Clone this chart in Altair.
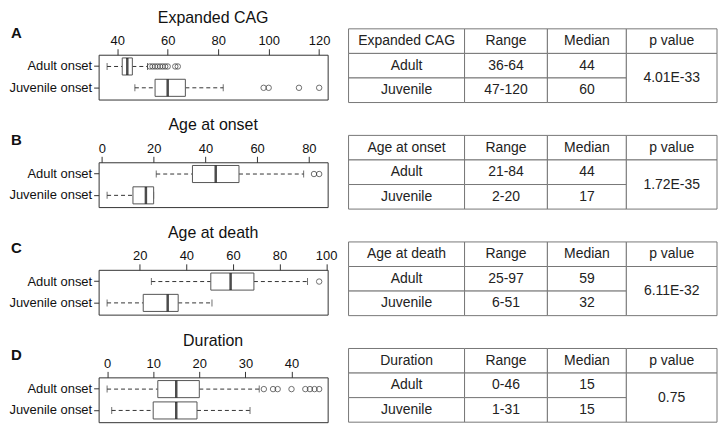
import altair as alt
import pandas as pd

# ---------------- data ----------------
PANELS = ["Expanded CAG", "Age at onset", "Age at death", "Duration"]
LETTERS = ["A", "B", "C", "D"]
GROUPS = ["Adult onset", "Juvenile onset"]

WHISK_LO = [[36, 47], [21, 2], [25, 6], [0, 1]]
Q1 = [[42, 55], [35, 12], [50.5, 21.5], [11, 10]]
MEDIAN = [[44, 60], [44, 17], [59, 32], [15, 15]]
Q3 = [[46, 67], [53, 20], [69, 36.5], [20, 19.5]]
WHISK_HI = [[52, 82], [78, 20], [92, 51], [33, 31]]
OUTLIERS = [
    [[53, 54, 55, 56, 57, 58, 59, 60, 63, 64], [98, 100, 112, 120]],
    [[82, 84], []],
    [[97], []],
    [[34, 36, 37, 40, 43, 44, 45, 46], []],
]
TICKS = [[40, 60, 80, 100, 120], [0, 20, 40, 60, 80], [20, 40, 60, 80, 100], [0, 10, 20, 30, 40]]

ROW_LABELS = ["Adult", "Juvenile"]
HEADERS = ["Range", "Median", "p value"]
TABLE_RANGE = [["36-64", "47-120"], ["21-84", "2-20"], ["25-97", "6-51"], ["0-46", "1-31"]]
TABLE_MEDIAN = [["44", "60"], ["44", "17"], ["59", "32"], ["15", "15"]]
P_VALUES = ["4.01E-33", "1.72E-35", "6.11E-32", "0.75"]

# ---------------- layout / style ----------------
FONT = "Liberation Sans"
COL_EDGES = [0, 119, 204, 285, 378]   # relative column widths of the tables
BOX_W, BOX_H = 230, 45
LEFT_SPACING = 16
TAB_W, TAB_H = 370, 74
TAB_SPACING = 6
TAB_SHIFT = -26                       # tables start a little above the box-plot frames


def box_panel(i):
    df = pd.DataFrame({
        "group": GROUPS, "lo": WHISK_LO[i], "q1": Q1[i], "med": MEDIAN[i],
        "q3": Q3[i], "hi": WHISK_HI[i],
    })
    out_rows = [(g, v) for g, vals in zip(GROUPS, OUTLIERS[i]) for v in vals]
    df_out = pd.DataFrame(out_rows, columns=["group", "value"])
    allv = WHISK_LO[i] + WHISK_HI[i] + sum(OUTLIERS[i], [])
    vmin, vmax = min(allv), max(allv)
    pad = 0.04 * (vmax - vmin)
    xs = alt.Scale(domain=[vmin - pad, vmax + pad], nice=False, zero=False)
    xax = alt.Axis(orient="top", values=TICKS[i], title=None, grid=False, domain=False,
                   tickSize=6, tickColor="#333", labelFontSize=13, labelPadding=1,
                   labelColor="#111", labelFont=FONT, format="d")
    ys = alt.Scale(domain=GROUPS, paddingInner=0.2, paddingOuter=0.15)
    yax = alt.Axis(title=None, domain=False, tickSize=5, tickColor="#333", labelFontSize=13,
                   labelPadding=2, labelColor="#111", labelFont=FONT)

    def X(f):
        return alt.X(f, scale=xs, axis=xax)

    Y = alt.Y("group:N", scale=ys, axis=yax, sort=GROUPS)
    base = alt.Chart(df)
    lower = base.mark_rule(strokeDash=[4, 3], color="#333", strokeWidth=1).encode(
        x=X("lo:Q"), x2="q1:Q", y=Y)
    upper = base.mark_rule(strokeDash=[4, 3], color="#333", strokeWidth=1).encode(
        x=X("q3:Q"), x2="hi:Q", y=Y)
    caps = base.transform_fold(["lo", "hi"], as_=["k", "v"]).mark_tick(
        size=7, thickness=1, color="#333").encode(x=X("v:Q"), y=Y)
    box = base.mark_bar(fill="white", stroke="#555", strokeWidth=1).encode(
        x=X("q1:Q"), x2="q3:Q", y=Y)
    med = base.mark_tick(size=17, thickness=2.5, color="#000").encode(x=X("med:Q"), y=Y)
    outl = alt.Chart(df_out).mark_point(shape="circle", filled=False, size=30,
                                        strokeWidth=1, color="#333").encode(x=X("value:Q"), y=Y)
    letter = alt.Chart(pd.DataFrame({"t": [LETTERS[i]]})).mark_text(
        align="left", baseline="middle", fontSize=15, fontWeight="bold", font=FONT,
        color="#111").encode(text="t:N", x=alt.value(-88), y=alt.value(-22))
    return alt.layer(lower, upper, caps, box, med, outl, letter).properties(
        width=BOX_W, height=BOX_H,
        title=alt.TitleParams(PANELS[i], fontSize=16, fontWeight="normal", font=FONT,
                              offset=0, color="#111", anchor="middle"),
        view=alt.ViewBackground(stroke="#333", strokeWidth=1),
    )


def table_panel(i):
    rows = []
    hdr = [PANELS[i]] + HEADERS
    for c in range(4):
        rows.append(dict(x0=COL_EDGES[c], x1=COL_EDGES[c + 1], y0=0, y1=1, t=hdr[c]))
    for r in range(2):
        vals = [ROW_LABELS[r], TABLE_RANGE[i][r], TABLE_MEDIAN[i][r]]
        for c in range(3):
            rows.append(dict(x0=COL_EDGES[c], x1=COL_EDGES[c + 1], y0=r + 1, y1=r + 2, t=vals[c]))
    rows.append(dict(x0=COL_EDGES[3], x1=COL_EDGES[4], y0=1, y1=3, t=P_VALUES[i]))
    df = pd.DataFrame(rows)
    df["xm"] = (df["x0"] + df["x1"]) / 2
    df["ym"] = (df["y0"] + df["y1"]) / 2
    xs = alt.Scale(domain=[0, COL_EDGES[-1]], nice=False, zero=False)
    ys = alt.Scale(domain=[0, 3], reverse=True, nice=False, zero=False)
    rect = alt.Chart(df).mark_rect(fill="white", stroke="#777", strokeWidth=1,
                                   yOffset=TAB_SHIFT, y2Offset=TAB_SHIFT).encode(
        x=alt.X("x0:Q", scale=xs, axis=None), x2="x1:Q",
        y=alt.Y("y0:Q", scale=ys, axis=None), y2="y1:Q")
    text = alt.Chart(df).mark_text(fontSize=14, font=FONT, color="#222", baseline="middle",
                                   yOffset=TAB_SHIFT).encode(
        x=alt.X("xm:Q", scale=xs, axis=None), y=alt.Y("ym:Q", scale=ys, axis=None), text="t:N")
    return alt.layer(rect, text).properties(
        width=TAB_W, height=TAB_H, view=alt.ViewBackground(strokeOpacity=0))


left = alt.vconcat(*[box_panel(i) for i in range(4)], spacing=LEFT_SPACING)
right = alt.vconcat(*[table_panel(i) for i in range(4)], spacing=TAB_SPACING)

chart = alt.hconcat(left, right, spacing=10, padding=0).configure(
    font=FONT).configure_view(stroke="transparent")

chart.save("out.html", embed_options={"renderer": "svg", "actions": False})
